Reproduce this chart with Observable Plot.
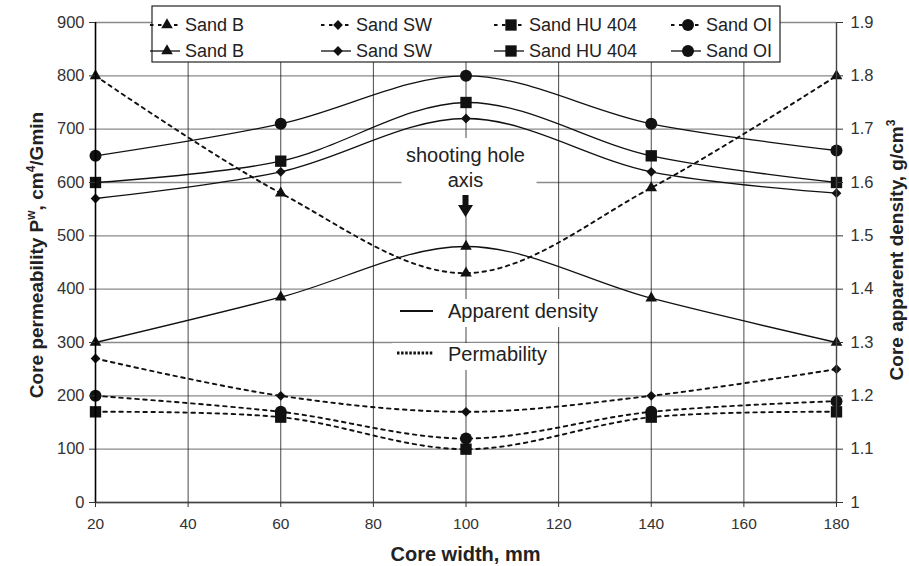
<!DOCTYPE html>
<html><head><meta charset="utf-8">
<script src="https://cdn.jsdelivr.net/npm/d3@7"></script>
<script src="https://cdn.jsdelivr.net/npm/@observablehq/plot@0.6"></script>
<style>
body{margin:0;background:#fff}
svg{font-family:"Liberation Sans",Arial,sans-serif}
</style>
</head><body><div id="chart"></div>
<script>
// ---- data ----
const widths = [20, 60, 100, 140, 180];
const sands = ["Sand B", "Sand SW", "Sand HU 404", "Sand OI"];
const symbols = ["triangle", "diamond2", "square", "circle"];
const symbolR = [4.3, 4.4, 6.4, 6];

// Core permeability (left axis)
const permB  = [800, 580, 430, 590, 800];
const permSW = [270, 200, 170, 200, 250];
const permHU = [170, 160, 100, 160, 170];
const permOI = [200, 170, 120, 170, 190];

// Core apparent density (right axis)
const densB  = [1.30, 1.385, 1.48, 1.383, 1.30];
const densSW = [1.57, 1.62, 1.72, 1.62, 1.58];
const densHU = [1.60, 1.64, 1.75, 1.65, 1.60];
const densOI = [1.65, 1.71, 1.80, 1.71, 1.66];

const permTicks = [0, 100, 200, 300, 400, 500, 600, 700, 800, 900];
const densTickLabels = ["1", "1.1", "1.2", "1.3", "1.4", "1.5", "1.6", "1.7", "1.8", "1.9"];
const widthTicks = [20, 40, 60, 80, 100, 120, 140, 160, 180];

const permSeries = [permB, permSW, permHU, permOI];
const densSeries = [densB, densSW, densHU, densOI];

// density 1..1.9 shares the plot with permeability 0..900
const densToY = d => (d - 1) * 1000;
const rows = (vals, f) => widths.map((w, i) => ({w, v: f(vals[i])}));

const marks = [
  Plot.gridY(permTicks, {stroke: "#8a8a8a", strokeOpacity: 1, strokeWidth: 1.3}),
  Plot.gridX(widthTicks, {stroke: "#1a1a1a", strokeOpacity: 1, strokeWidth: 0.8}),
];
permSeries.forEach((vals, i) => {
  marks.push(Plot.line(rows(vals, v => v), {x: "w", y: "v", curve: "catmull-rom", stroke: "#111", strokeWidth: 1.9, strokeDasharray: "3.5,4.5"}));
});
densSeries.forEach((vals, i) => {
  marks.push(Plot.line(rows(vals, densToY), {x: "w", y: "v", curve: "catmull-rom", stroke: "#111", strokeWidth: 1.3}));
});
permSeries.forEach((vals, i) => {
  marks.push(Plot.dot(rows(vals, v => v), {x: "w", y: "v", symbol: symbols[i], r: symbolR[i], fill: "#111", stroke: "none"}));
});
densSeries.forEach((vals, i) => {
  marks.push(Plot.dot(rows(vals, densToY), {x: "w", y: "v", symbol: symbols[i], r: symbolR[i], fill: "#111", stroke: "none"}));
});
marks.push(
  Plot.ruleY([0], {stroke: "#444", strokeWidth: 1.6}),
  Plot.ruleX([180], {stroke: "#444", strokeWidth: 1.4}),
  Plot.ruleX([20], {stroke: "#000", strokeWidth: 1.6}),
  Plot.axisY(permTicks, {anchor: "left", label: null, tickSize: 6, tickPadding: 5, fontSize: 16.5, color: "#333", stroke: "#333"}),
  Plot.axisY(permTicks, {anchor: "right", label: null, tickSize: 6, tickPadding: 8, fontSize: 16.5, color: "#333",
    tickFormat: d => densTickLabels[permTicks.indexOf(d)]}),
  Plot.axisX(widthTicks, {anchor: "bottom", label: null, tickSize: 5, tickPadding: 10, fontSize: 15.5, color: "#333"})
);

const plot = Plot.plot({
  width: 909, height: 566,
  marginLeft: 95, marginRight: 73, marginTop: 22, marginBottom: 64,
  style: {background: "white", fontFamily: "'Liberation Sans', Arial, sans-serif", color: "#222"},
  x: {domain: [20, 180]},
  y: {domain: [0, 900]},
  marks
});
document.getElementById("chart").appendChild(plot);

const svg = d3.select(plot);
const X = plot.scale("x");
const xc = X.apply(100);

// white backgrounds behind in-plot annotations (below the data lines)
const bg = svg.insert("g", 'g[aria-label="line"]');
[[xc - 64, 138, 135, 57], [392, 299, 220, 28], [392, 343, 164, 27]].forEach(([x, y, w, h]) =>
  bg.append("rect").attr("x", x).attr("y", y).attr("width", w).attr("height", h).attr("fill", "white"));

const ann = svg.append("g").attr("fill", "#222");
ann.append("text").attr("x", xc).attr("y", 155).attr("text-anchor", "middle").attr("dominant-baseline", "central")
  .attr("font-size", 20).text("shooting hole");
ann.append("text").attr("x", xc).attr("y", 180).attr("text-anchor", "middle").attr("dominant-baseline", "central")
  .attr("font-size", 20).text("axis");
// arrow
ann.append("path").attr("fill", "#111")
  .attr("d", `M${xc - 3},195 h6 v10 h4.5 l-7.5,12 l-7.5,-12 h4.5 z`);

// inner legend
ann.append("line").attr("x1", 400).attr("x2", 433).attr("y1", 311).attr("y2", 311).attr("stroke", "#111").attr("stroke-width", 2.2);
ann.append("text").attr("x", 448).attr("y", 311).attr("text-anchor", "start").attr("dominant-baseline", "central").attr("font-size", 20).text("Apparent density");
ann.append("line").attr("x1", 397).attr("x2", 433).attr("y1", 353).attr("y2", 353).attr("stroke", "#111").attr("stroke-width", 3).attr("stroke-dasharray", "2.5,1.6");
ann.append("text").attr("x", 448).attr("y", 354).attr("text-anchor", "start").attr("dominant-baseline", "central").attr("font-size", 20).text("Permability");

// top legend
const leg = svg.append("g");
leg.append("rect").attr("x", 152).attr("y", 6).attr("width", 628).attr("height", 56)
  .attr("fill", "white").attr("stroke", "#222").attr("stroke-width", 1.2);
const cols = [167, 338, 511, 688];
const d3sym = {triangle: d3.symbolTriangle, diamond2: d3.symbolDiamond2, square: d3.symbolSquare, circle: d3.symbolCircle};
sands.forEach((s, i) => {
  [25, 51].forEach((yy, row) => {
    const cx = cols[i];
    const ln = leg.append("line").attr("x1", cx - 17).attr("x2", cx + 13).attr("y1", yy).attr("y2", yy)
      .attr("stroke", "#111").attr("stroke-width", row === 0 ? 1.9 : 1.3);
    if (row === 0) ln.attr("stroke-dasharray", "3.5,4.5");
    leg.append("path").attr("transform", `translate(${cx},${yy})`).attr("fill", "#111")
      .attr("d", d3.symbol(d3sym[symbols[i]], Math.PI * symbolR[i] * symbolR[i])());
    leg.append("text").attr("x", cx + 18).attr("y", yy).attr("text-anchor", "start").attr("dominant-baseline", "central")
      .attr("font-size", 18).attr("fill", "#222").text(s);
  });
});

// axis titles
const titles = svg.append("g").attr("font-weight", "bold").attr("fill", "#222").attr("font-size", 19);
titles.append("text").attr("x", xc).attr("y", 561).attr("text-anchor", "middle").attr("font-size", 20).text("Core width, mm");
const lt = titles.append("text").attr("transform", "translate(43,255) rotate(-90)").attr("text-anchor", "middle");
lt.append("tspan").text("Core permeability P");
lt.append("tspan").attr("font-size", 12).attr("dy", -8).text("w");
lt.append("tspan").attr("dy", 8).text(", cm");
lt.append("tspan").attr("font-size", 12).attr("dy", -8).text("4");
lt.append("tspan").attr("dy", 8).text("/Gmin");
const rt = titles.append("text").attr("transform", "translate(903,250) rotate(-90)").attr("text-anchor", "middle");
rt.append("tspan").text("Core apparent density, g/cm");
rt.append("tspan").attr("font-size", 12).attr("dy", -8).text("3");
</script>
</body></html>
